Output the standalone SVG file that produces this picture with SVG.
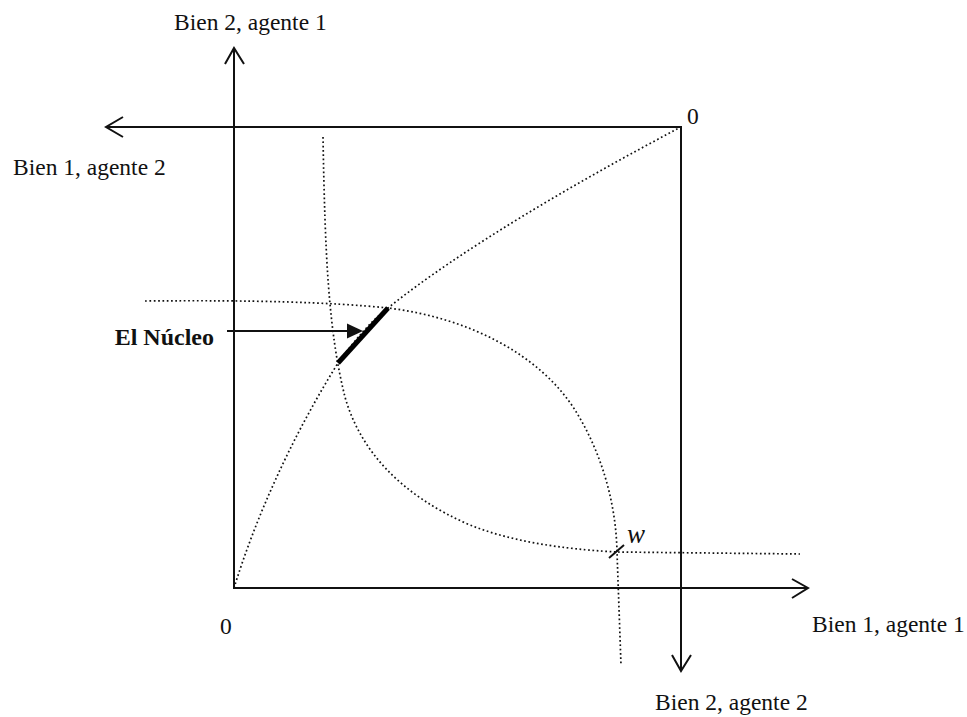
<svg xmlns="http://www.w3.org/2000/svg" width="967" height="717" viewBox="0 0 967 717">
<style>
.t{font-family:"Liberation Serif","Times New Roman",serif;font-size:23.5px;fill:#111}
.ax{stroke:#111;stroke-width:2;fill:none}
.head{stroke:#111;stroke-width:2;fill:none;stroke-linecap:butt}
.dot{stroke:#111;stroke-width:1.7;fill:none;stroke-dasharray:1.7 2.6}
</style>
<rect width="967" height="717" fill="#fff"/>
<g id="axes-agent1">
<line class="ax" x1="234" y1="589" x2="234" y2="48"/>
<polyline class="head" points="225,64 234,48 244,64"/>
<line class="ax" x1="233" y1="588" x2="807" y2="588"/>
<polyline class="head" points="792,579 808,588 792,598"/>
</g>
<g id="axes-agent2">
<line class="ax" x1="682" y1="127" x2="106" y2="127"/>
<polyline class="head" points="123,117 106,127 123,137"/>
<line class="ax" x1="681" y1="126" x2="681" y2="671"/>
<polyline class="head" points="672,655 681,671 691,655"/>
</g>
<g id="curves">
<path id="contract-curve" class="dot" d="M234,588 C255,520 290,440 338,363 C355,340 370,322 388,308 C460,250 580,180 681,127"/>
<path id="indiff-agent1" class="dot" d="M323,137 C325,250 328,330 345,397 C360,450 400,495 470,525 C520,545 580,550 617,552 L800,554"/>
<path id="indiff-agent2" class="dot" d="M145,301 C250,300 330,302 388,308 C470,318 540,355 575,410 C600,450 616,500 617,552 L621,665"/>
</g>
<g id="core">
<line x1="338" y1="363" x2="388" y2="308" stroke="#000" stroke-width="5"/>
</g>
<g id="w-point">
<line x1="609" y1="558" x2="624" y2="545" stroke="#111" stroke-width="2"/>
<text class="t" x="627" y="543" style="font-style:italic;font-size:27px">w</text>
</g>
<g id="connectors">
<line x1="227" y1="331" x2="349" y2="331" stroke="#111" stroke-width="2"/>
<polygon points="347,323.5 363,331 347,338.5" fill="#111"/>
</g>
<g id="labels">
<text class="t" x="174" y="30">Bien 2, agente 1</text>
<text class="t" x="13" y="175">Bien 1, agente 2</text>
<text class="t" x="812" y="632">Bien 1, agente 1</text>
<text class="t" x="655" y="710">Bien 2, agente 2</text>
<text class="t" x="687" y="124">0</text>
<text class="t" x="220" y="634">0</text>
<text class="t" x="214" y="345" text-anchor="end" style="font-weight:bold;font-size:24px">El Núcleo</text>
</g>
</svg>
